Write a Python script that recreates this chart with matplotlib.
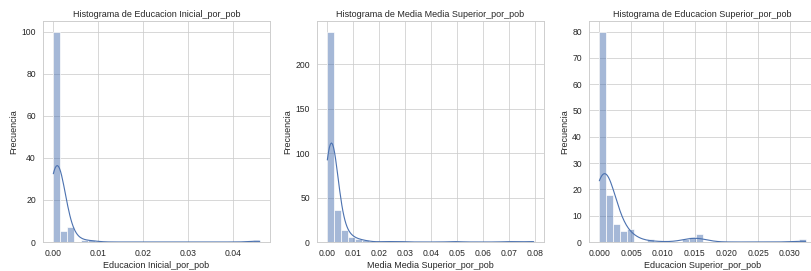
import numpy as np
import matplotlib
matplotlib.use("Agg")
import matplotlib.pyplot as plt
from matplotlib.ticker import MultipleLocator
import seaborn as sns

# ---- data (bin counts, 30 bins each) ----
columns = ["Educacion Inicial_por_pob",
           "Media Media Superior_por_pob",
           "Educacion Superior_por_pob"]

max_ini = 0.046
counts_ini = [100, 5, 7, 0, 1, 1, 0, 0, 0, 0,
              0, 0, 0, 0, 0, 0, 0, 0, 0, 0,
              0, 0, 0, 0, 0, 0, 0, 0, 0, 1]

max_med = 0.0796
counts_med = [237, 36, 14, 6, 3, 2, 0, 0, 1, 0,
              1, 0, 0, 0, 0, 0, 0, 0, 1, 0,
              0, 0, 0, 0, 0, 0, 1, 0, 0, 1]

max_sup = 0.0325
counts_sup = [80, 18, 7, 4, 5, 0, 0, 1, 0, 0,
              0, 0, 1, 2, 3, 0, 0, 0, 0, 0,
              0, 0, 0, 0, 0, 0, 0, 0, 0, 1]

maxima = [max_ini, max_med, max_sup]
all_counts = [counts_ini, counts_med, counts_sup]
x_steps = [0.01, 0.01, 0.005]
bw_adjusts = [1.07, 1.1, 1.02]

sns.set_theme(style="whitegrid")
plt.rcParams["font.family"] = ["Liberation Sans", "DejaVu Sans"]

W, H, DPI = 811, 271, 54
fig = plt.figure(figsize=(W / DPI, H / DPI), dpi=DPI)

ax_w = 227 / W
ax_h = (242 - 21) / H
bottom = 1 - 242 / H
lefts = [43 / W, 317 / W, 589 / W]

for col, mx, cnts, lft, bwa, step in zip(columns, maxima, all_counts, lefts,
                                         bw_adjusts, x_steps):
    ax = fig.add_axes([lft, bottom, ax_w, ax_h])
    edges = np.linspace(0, mx, len(cnts) + 1)
    centers = (edges[:-1] + edges[1:]) / 2
    values = np.repeat(centers, cnts)
    sns.histplot(x=values, bins=edges, kde=True, ax=ax,
                 kde_kws=dict(cut=3, clip=(0, mx), bw_adjust=bwa))
    ax.set_title(f"Histograma de {col}")
    ax.set_xlabel(col)
    ax.set_ylabel("Frecuencia")
    ax.xaxis.set_major_locator(MultipleLocator(step))
    ax.tick_params(labelsize=11.5)

fig.savefig("out.png", dpi=DPI)
